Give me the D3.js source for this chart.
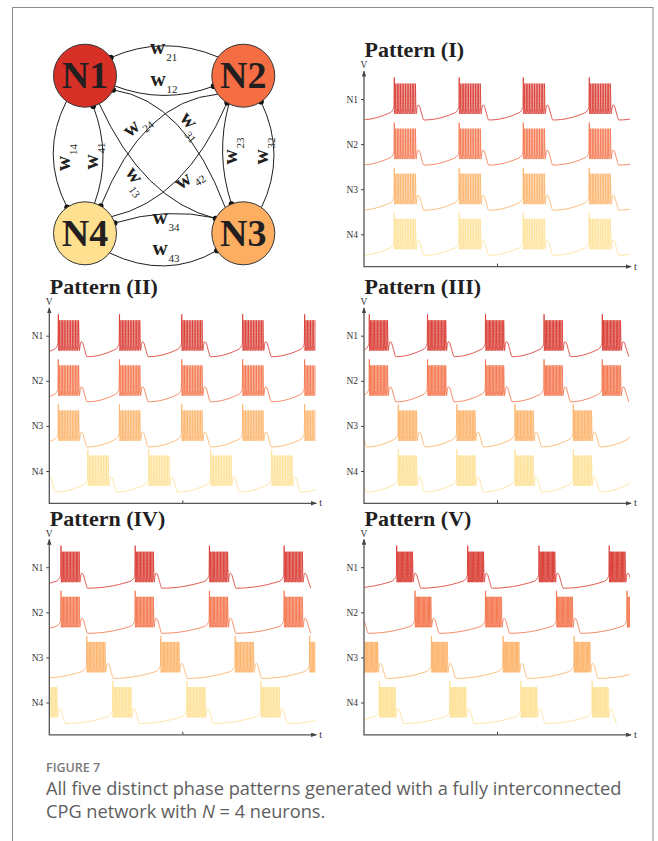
<!DOCTYPE html>
<html><head><meta charset="utf-8">
<script src="https://cdn.jsdelivr.net/npm/d3@7"></script>
<style>
html,body{margin:0;padding:0;background:#fff;}
svg{display:block;}
</style></head>
<body>
<svg id="fig" width="658" height="841"></svg>
<script>
// ---------------- data ----------------
const neurons = ["N1", "N2", "N3", "N4"];
const neuronColors = ["#d73027", "#f46d43", "#fdae61", "#fee090"];
const patternNames = ["Pattern (I)", "Pattern (II)", "Pattern (III)", "Pattern (IV)", "Pattern (V)"];

// burst onset times for N1..N4 on a 0–100 time window
// (bursts running in from the left edge or out past the right edge are listed too)
const onsetsI = [
  [-13.0, 11.4, 35.8, 59.9, 84.7, 109.1],
  [-13.0, 11.4, 35.8, 59.9, 84.7, 109.1],
  [-13.0, 11.4, 35.8, 59.9, 84.7, 109.1],
  [-13.0, 11.4, 35.8, 59.9, 84.7, 109.1]
];
const onsetsII = [
  [-19.7, 3.4, 26.4, 49.8, 72.7, 96.0],
  [-19.7, 3.4, 26.4, 49.8, 72.7, 96.0],
  [-19.7, 3.4, 26.4, 49.8, 72.7, 96.0],
  [-8.5, 14.5, 37.4, 60.7, 83.6, 106.7]
];
const onsetsIII = [
  [-19.9, 2.0, 23.9, 45.7, 67.7, 89.6],
  [-19.9, 2.0, 23.9, 45.7, 67.7, 89.6],
  [-9.0, 12.9, 34.9, 56.8, 78.7, 100.6],
  [-9.0, 12.9, 34.9, 56.8, 78.7, 100.6]
];
const onsetsIV = [
  [-23.5, 4.4, 32.3, 60.2, 88.3],
  [-23.5, 4.4, 32.3, 60.2, 88.3],
  [-13.8, 14.1, 41.9, 69.9, 97.9],
  [-4.0, 23.9, 51.7, 79.6, 107.5]
];
const onsetsV = [
  [-14.4, 12.3, 39.0, 65.8, 92.2],
  [-7.5, 19.2, 45.7, 72.4, 98.9],
  [-0.8, 25.4, 52.3, 79.0, 105.7],
  [-20.9, 5.8, 32.3, 59.0, 85.8]
];
const patternOnsets = [onsetsI, onsetsII, onsetsIII, onsetsIV, onsetsV];
const burstLengths = [7.9, 7.6, 6.8, 6.8, 5.9];

// single-burst waveform (membrane potential, mV)
const spikePhase = [0, 0.065, 0.14, 0.215, 0.29, 0.37, 0.45, 0.53, 0.61, 0.69, 0.77, 0.85, 0.925, 1.0];
const preWave = [[-2.3, -59], [-1.2, -56], [-0.5, -51], [-0.15, -46]];
const postWave = [[0.3, -60], [0.65, -47], [1.0, -42], [1.5, -44], [2.3, -58], [3.2, -72]];
const firstSpikeTop = 13, spikeTop = 1, spikeBottom = -60, spikeRecover = -50;

// ---------------- layout ----------------
const svg = d3.select("#fig");
const serif = "'Liberation Serif', 'Times New Roman', serif";
const ink = "#231f20";

svg.append("rect").attr("x", 12.5).attr("y", 7.5).attr("width", 640.5).attr("height", 900)
  .attr("fill", "none").attr("stroke", "#8c8c8c").attr("stroke-width", 1);

const defs = svg.append("defs");
defs.append("marker").attr("id", "arrow").attr("viewBox", "0 0 8 6")
  .attr("refX", 7).attr("refY", 3).attr("markerWidth", 6).attr("markerHeight", 4.5)
  .attr("markerUnits", "userSpaceOnUse").attr("orient", "auto")
  .append("path").attr("d", "M0,0 L8,3 L0,6 Z").attr("fill", "#444");

// ---------------- network diagram ----------------
const nodeR = 31.5;
const nodeCenters = { N1: [85, 75.7], N2: [243.3, 75.7], N3: [243.3, 233.3], N4: [85, 233.3] };
const rad = Math.PI / 180;
function rim(n, a) {
  const c = nodeCenters[n];
  return [c[0] + nodeR * Math.cos(a * rad), c[1] + nodeR * Math.sin(a * rad)];
}
// [from node, exit angle, to node, entry angle, control point, dot at "from" or "to"]
const edges = [
  ["N1", -35, "N2", -143.5, [164, 34.2], "from"],    // w21
  ["N1", 19, "N2", 160.6, [164, 104.8], "to"],       // w12
  ["N4", -19, "N3", -151, [166, 206.8], "from"],     // w34
  ["N4", 38.7, "N3", 146.8, [166, 280.1], "to"],     // w43
  ["N1", 126, "N4", -124.6, [39.6, 153.8], "to"],    // w14
  ["N1", 75, "N4", -72.4, [112.1, 155.5], "from"],   // w41
  ["N2", 117, "N3", -112, [215, 154], "to"],         // w23
  ["N2", 55.7, "N3", -54.8, [286.7, 155], "from"],   // w32
  ["N1", 26.8, "N3", -125, [185, 100.4], "from"],    // w31
  ["N1", 63, "N3", -152, [143, 200], "to"],          // w13
  ["N2", 144, "N4", -60, [143.3, 100.4], "to"],      // w24
  ["N2", 121, "N4", -32, [185.3, 200], "from"]       // w42
];
const net = svg.append("g");
edges.forEach(e => {
  const p0 = rim(e[0], e[1]), p1 = rim(e[2], e[3]), c = e[4];
  const path = d3.path();
  path.moveTo(p0[0], p0[1]);
  path.quadraticCurveTo(c[0], c[1], p1[0], p1[1]);
  net.append("path").attr("d", path.toString()).attr("fill", "none")
    .attr("stroke", "#1e1e1e").attr("stroke-width", 1);
  const d = e[5] === "from" ? p0 : p1;
  net.append("circle").attr("cx", d[0]).attr("cy", d[1]).attr("r", 2.8).attr("fill", "#111");
});
neurons.forEach((n, i) => {
  const c = nodeCenters[n];
  net.append("circle").attr("cx", c[0]).attr("cy", c[1]).attr("r", nodeR)
    .attr("fill", neuronColors[i]).attr("stroke", "#333").attr("stroke-width", 1);
  net.append("text").attr("x", c[0]).attr("y", c[1] + 12.6).attr("text-anchor", "middle")
    .attr("font-family", serif).attr("font-weight", "bold").attr("font-size", 38)
    .attr("fill", ink).text(n);
});
// weight labels: [subscript, x, y (baseline), rotation]
const weightLabels = [
  ["21", 163.7, 54.3, 0], ["12", 164, 85.7, 0], ["34", 166, 224, 0], ["43", 166, 255, 0],
  ["14", 70, 157.5, -90], ["41", 98.3, 156, -90], ["23", 236.7, 151, -90], ["32", 268.3, 151, -90],
  ["24", 139.9, 129.3, -40], ["31", 187.7, 128.9, 50], ["13", 132.5, 183.7, 55], ["42", 191.7, 182.5, -35]
];
weightLabels.forEach(l => {
  const t = net.append("text").attr("transform", `translate(${l[1]},${l[2]}) rotate(${l[3]})`)
    .attr("text-anchor", "middle").attr("font-family", serif).attr("fill", ink);
  t.append("tspan").attr("font-weight", "bold").attr("font-size", 21).text("w");
  t.append("tspan").attr("font-size", 11).attr("dx", 1).attr("dy", 7).text(l[0]);
});

// ---------------- voltage trace panels ----------------
const panelLeft = [364, 49.3, 364, 49.3, 364];
const panelTitleY = [57.3, 294, 294, 525.5, 525.5];
const panelWidth = 266;

function buildTrace(onsets, len) {
  const pts = [];
  onsets.forEach(t0 => {
    preWave.forEach(([dt, v]) => pts.push([t0 + dt, v]));
    spikePhase.forEach((p, k) => {
      const ts = t0 + p * len;
      pts.push([ts, k === 0 ? firstSpikeTop : spikeTop]);
      if (k < spikePhase.length - 1) {
        const tn = t0 + spikePhase[k + 1] * len;
        pts.push([ts + 0.1, spikeBottom]);
        pts.push([tn - 0.08, spikeRecover]);
      }
    });
    postWave.forEach(([dt, v]) => pts.push([t0 + len + dt, v]));
  });
  return pts;
}

patternNames.forEach((name, pi) => {
  const x0 = panelLeft[pi], x1 = x0 + panelWidth, yb = panelTitleY[pi];
  const axisTop = yb + 14, rowTop = yb + 41.7, rowBottom = rowTop + 135.3, axisY = yb + 209.3;
  const g = svg.append("g");

  g.append("text").attr("x", x0 + 0.5).attr("y", yb).attr("font-family", serif)
    .attr("font-weight", "bold").attr("font-size", 22).attr("fill", ink).text(name);

  const x = d3.scaleLinear().domain([0, 100]).range([x0, x1]);
  const row = d3.scalePoint().domain(neurons).range([rowTop, rowBottom]);

  const clipId = "clip" + pi;
  defs.append("clipPath").attr("id", clipId).append("rect")
    .attr("x", x0 + 0.5).attr("y", axisTop - 12).attr("width", panelWidth - 0.5).attr("height", axisY - axisTop + 10);

  const traces = g.append("g").attr("clip-path", `url(#${clipId})`);
  neurons.forEach((n, ni) => {
    const yc = row(n);
    const y = d3.scaleLinear().domain([-75, 15]).range([yc + 22.5, yc - 22.5]);
    const line = d3.line().x(d => x(d[0])).y(d => y(d[1])).curve(d3.curveMonotoneX);
    traces.append("path").datum(buildTrace(patternOnsets[pi][ni], burstLengths[pi]))
      .attr("d", line).attr("fill", "none").attr("stroke", neuronColors[ni])
      .attr("stroke-width", 0.8).attr("stroke-linejoin", "round");
  });

  // axes
  const yAxis = g.append("g").attr("transform", `translate(${x0},0)`)
    .call(d3.axisLeft(row).tickSize(3).tickSizeOuter(0).tickPadding(3));
  yAxis.select(".domain").remove();
  yAxis.selectAll(".tick line").attr("stroke", "#444");
  yAxis.selectAll(".tick text").attr("font-family", serif).attr("font-size", 9.5).attr("fill", "#333");

  const xAxis = g.append("g").attr("transform", `translate(0,${axisY})`)
    .call(d3.axisBottom(x).tickValues([50]).tickSize(-3).tickSizeOuter(0).tickFormat(""));
  xAxis.select(".domain").remove();
  xAxis.selectAll(".tick line").attr("stroke", "#444");

  g.append("line").attr("x1", x0).attr("y1", axisY).attr("x2", x0).attr("y2", axisTop)
    .attr("stroke", "#555").attr("stroke-width", 1.3).attr("marker-end", "url(#arrow)");
  g.append("line").attr("x1", x0 - 0.6).attr("y1", axisY).attr("x2", x1 + 1).attr("y2", axisY)
    .attr("stroke", "#555").attr("stroke-width", 1.3).attr("marker-end", "url(#arrow)");

  g.append("text").attr("x", x0).attr("y", axisTop - 3).attr("text-anchor", "middle")
    .attr("font-family", serif).attr("font-size", 9.5).attr("fill", "#333").text("V");
  g.append("text").attr("x", x1 + 4).attr("y", axisY + 3).attr("font-family", serif)
    .attr("font-size", 10).attr("fill", "#333").text("t");
});

// ---------------- caption ----------------
const sans = "'Open Sans', 'Noto Sans', sans-serif";
svg.append("text").attr("x", 46).attr("y", 772).attr("font-family", sans)
  .attr("font-size", 12.5).attr("font-weight", 600).attr("fill", "#7a7a7a").text("FIGURE 7");
const cap1 = svg.append("text").attr("x", 46).attr("y", 795).attr("font-family", sans)
  .attr("font-size", 17).attr("fill", "#5e5e5e")
  .text("All five distinct phase patterns generated with a fully interconnected");
const w1 = cap1.node().getComputedTextLength();
const capSize = 17 * 576 / w1;
cap1.attr("font-size", capSize);
const cap2 = svg.append("text").attr("x", 46).attr("y", 818).attr("font-family", sans)
  .attr("font-size", capSize).attr("fill", "#5e5e5e");
cap2.append("tspan").text("CPG network with ");
cap2.append("tspan").attr("font-style", "italic").text("N");
cap2.append("tspan").text(" = 4 neurons.");
</script>
</body></html>
